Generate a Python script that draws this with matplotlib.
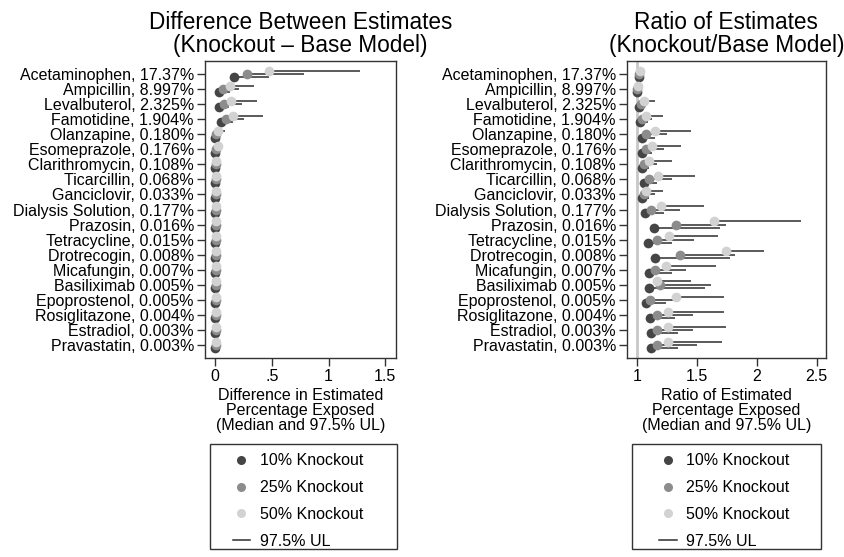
import matplotlib
matplotlib.use("Agg")
import matplotlib.pyplot as plt
from matplotlib.lines import Line2D
from matplotlib.patches import Rectangle

plt.rcParams['font.family'] = ['Liberation Sans', 'DejaVu Sans']

drugs = ["Acetaminophen, 17.37%", "Ampicillin, 8.997%", "Levalbuterol, 2.325%",
         "Famotidine, 1.904%", "Olanzapine, 0.180%", "Esomeprazole, 0.176%",
         "Clarithromycin, 0.108%", "Ticarcillin, 0.068%", "Ganciclovir, 0.033%",
         "Dialysis Solution, 0.177%", "Prazosin, 0.016%", "Tetracycline, 0.015%",
         "Drotrecogin, 0.008%", "Micafungin, 0.007%", "Basiliximab 0.005%",
         "Epoprostenol, 0.005%", "Rosiglitazone, 0.004%", "Estradiol, 0.003%",
         "Pravastatin, 0.003%"]

# difference (knockout - base): medians and 97.5% upper limits
diff_med10 = [0.170, 0.038, 0.038, 0.050, 0.003, 0.003, 0.003, 0.003, 0.003, 0.003,
              0.003, 0.003, 0.003, 0.003, 0.003, 0.003, 0.003, 0.003, 0.003]
diff_med25 = [0.285, 0.073, 0.079, 0.097, 0.012, 0.012, 0.006, 0.006, 0.006, 0.006,
              0.006, 0.006, 0.006, 0.006, 0.006, 0.006, 0.006, 0.006, 0.006]
diff_med50 = [0.478, 0.132, 0.138, 0.161, 0.030, 0.030, 0.010, 0.010, 0.010, 0.010,
              0.010, 0.010, 0.010, 0.010, 0.010, 0.010, 0.010, 0.010, 0.010]
diff_ul10 = [0.473, 0.130, 0.120, 0.156, 0.010, 0.008, 0.005, 0.005, 0.005, 0.005,
             0.005, 0.005, 0.005, 0.005, 0.005, 0.005, 0.005, 0.005, 0.005]
diff_ul25 = [0.784, 0.214, 0.235, 0.255, 0.030, 0.020, 0.010, 0.008, 0.008, 0.008,
             0.008, 0.008, 0.008, 0.008, 0.008, 0.008, 0.008, 0.008, 0.008]
diff_ul50 = [1.280, 0.344, 0.367, 0.426, 0.085, 0.045, 0.018, 0.014, 0.012, 0.014,
             0.012, 0.012, 0.012, 0.012, 0.012, 0.012, 0.012, 0.012, 0.012]

# ratio (knockout / base): medians and 97.5% upper limits
ratio_med10 = [1.020, 1.003, 1.020, 1.025, 1.044, 1.047, 1.042, 1.060, 1.044, 1.070,
               1.145, 1.095, 1.155, 1.100, 1.105, 1.080, 1.110, 1.115, 1.120]
ratio_med25 = [1.020, 1.006, 1.036, 1.047, 1.080, 1.075, 1.058, 1.100, 1.060, 1.120,
               1.330, 1.170, 1.360, 1.150, 1.190, 1.110, 1.170, 1.170, 1.170]
ratio_med50 = [1.030, 1.010, 1.060, 1.080, 1.150, 1.130, 1.100, 1.180, 1.080, 1.200,
               1.645, 1.270, 1.740, 1.240, 1.170, 1.330, 1.260, 1.260, 1.260]
ratio_ul10 = [1.030, 1.010, 1.070, 1.090, 1.150, 1.130, 1.100, 1.170, 1.100, 1.230,
              1.690, 1.290, 1.780, 1.290, 1.570, 1.240, 1.320, 1.340, 1.340]
ratio_ul25 = [1.040, 1.012, 1.097, 1.130, 1.250, 1.230, 1.170, 1.290, 1.150, 1.360,
              1.740, 1.480, 1.820, 1.410, 1.620, 1.300, 1.470, 1.470, 1.500]
ratio_ul50 = [1.070, 1.020, 1.150, 1.220, 1.450, 1.370, 1.290, 1.485, 1.220, 1.560,
              2.370, 1.680, 2.060, 1.660, 1.450, 1.730, 1.730, 1.740, 1.710]

series_names = ["10% Knockout", "25% Knockout", "50% Knockout"]
dot_colors = ["#454545", "#8c8c8c", "#d2d2d2"]
offsets = [0.22, 0.0, -0.22]
line_col = "#2e2e2e"

W, H = 845, 557
fig = plt.figure(figsize=(W / 100, H / 100), dpi=100)

ax1 = fig.add_axes([205 / W, 1 - 358 / H, 190.7 / W, 297.3 / H])
ax2 = fig.add_axes([627 / W, 1 - 358 / H, 198.7 / W, 297.3 / H])


def panel(ax, meds, uls):
    rows = list(range(len(drugs)))
    for med, ul, off in zip(meds, uls, offsets):
        ax.hlines([r + off for r in rows], med, ul, color=line_col, lw=1.1, zorder=2)
    for med, off, col in zip(meds, offsets, dot_colors):
        ax.plot(med, [r + off for r in rows], 'o', ms=7, color=col, mec='none', zorder=3)
    ax.set_yticks(rows)
    ax.set_yticklabels(drugs)
    ax.set_ylim(len(drugs) - 1 + 0.86, -0.88)
    ax.tick_params(axis='both', direction='out', length=6, width=1,
                   labelsize=11.5, pad=2, color='#333333')
    for s in ax.spines.values():
        s.set_linewidth(1)
        s.set_color('#333333')


panel(ax1, [diff_med10, diff_med25, diff_med50], [diff_ul10, diff_ul25, diff_ul50])
ax1.set_xlim(-0.088, 1.592)
ax1.set_xticks([0, 0.5, 1, 1.5])
ax1.set_xticklabels(["0", ".5", "1", "1.5"])
ax1.set_title("Difference Between Estimates\n(Knockout \u2013 Base Model)",
              fontsize=16.3, linespacing=1.0, pad=6)
ax1.set_xlabel("Difference in Estimated\nPercentage Exposed\n(Median and 97.5% UL)",
               fontsize=11.5, linespacing=1.0, labelpad=3)

ax2.axvline(1, color='#c8c8c8', lw=2, zorder=1)
panel(ax2, [ratio_med10, ratio_med25, ratio_med50], [ratio_ul10, ratio_ul25, ratio_ul50])
ax2.set_xlim(0.919, 2.575)
ax2.set_xticks([1, 1.5, 2, 2.5])
ax2.set_xticklabels(["1", "1.5", "2", "2.5"])
ax2.set_title("Ratio of Estimates\n(Knockout/Base Model)",
              fontsize=16.3, linespacing=1.0, pad=6)
ax2.set_xlabel("Ratio of Estimated\nPercentage Exposed\n(Median and 97.5% UL)",
               fontsize=11.5, linespacing=1.0, labelpad=3)

handles = [Line2D([], [], ls='none', marker='o', ms=6.5, color=c, mec='none')
           for c in dot_colors]
handles.append(Line2D([], [], color=line_col, lw=1.1))
labels = series_names + ["97.5% UL"]

# legend boxes under each panel
for box_x0, box_x1, hx in [(210.5, 397, 232.7), (632.3, 821, 659.3)]:
    fig.add_artist(Rectangle((box_x0 / W, 1 - 549 / H), (box_x1 - box_x0) / W, 105 / H,
                             transform=fig.transFigure, fill=False,
                             ec='#333333', lw=1))
    fig.legend(handles, labels, loc='center left',
               bbox_to_anchor=(hx / W, 1 - 501 / H), frameon=False,
               fontsize=11.5, handlelength=1.1, handletextpad=0.6,
               labelspacing=0.74, borderpad=0, borderaxespad=0)

fig.savefig("out.png", dpi=100)
